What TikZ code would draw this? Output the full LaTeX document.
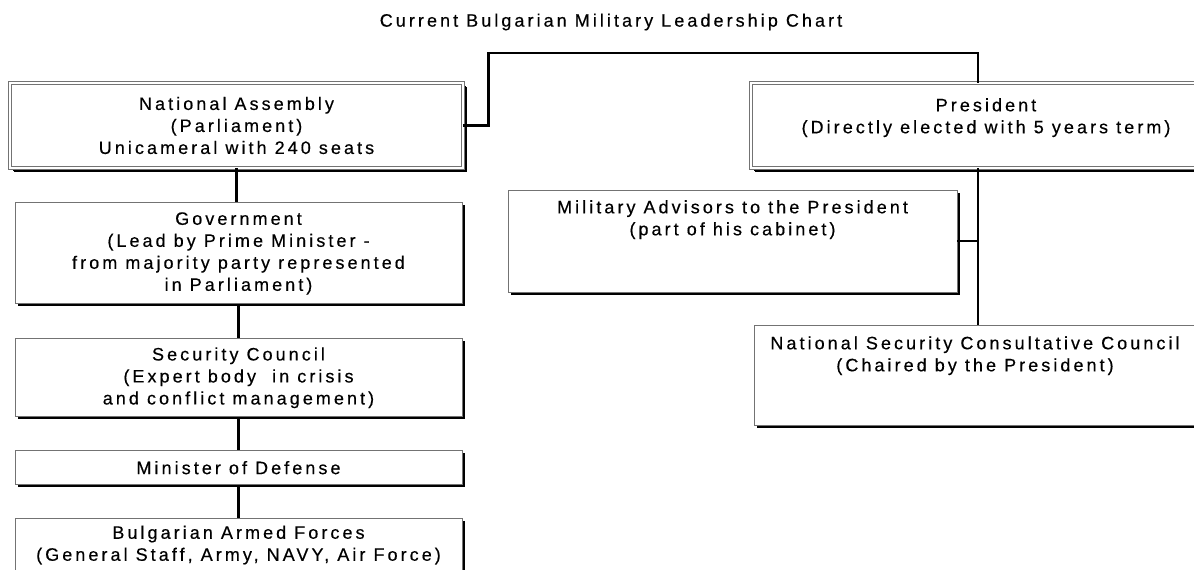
\documentclass[tikz,border=0pt]{standalone}
\usepackage{fontspec}
\newfontfamily\orgfont[LetterSpace=17, FakeBold=0.4]{Liberation Sans}
\usepackage{tikz}
\usetikzlibrary{positioning}
\usetikzlibrary{shadows}
\tikzset{
  orgnode/.style = {align=center, inner sep=0pt, text centered,
    font=\orgfont\fontsize{18}{22}\selectfont},
  org_box/.style = {orgnode, rectangle, draw=black!55, fill=white,
    line width=0.9pt,
    general shadow={fill=black, shadow xshift=2.5pt, shadow yshift=-2.5pt}},% plain box
  org_dbl/.style = {org_box, double=white, double distance=2pt,
    general shadow={fill=black, shadow xshift=4pt, shadow yshift=-4pt}},% top box
  org_link/.style = {draw=black, line width=2.4pt}
}

\begin{document}
\begin{tikzpicture}[x=1pt,y=-1pt]
\useasboundingbox (0,0) rectangle (1194,570);
\clip (0,0) rectangle (1194,570);
\node [orgnode] (title) at (611,22) {Current Bulgarian Military Leadership Chart};

% parliament side
\node [org_dbl, minimum width=453pt, minimum height=85pt] (na) at (236.5,125.5)
  {National Assembly\\(Parliament)\\Unicameral with 240 seats};
\node [org_box, minimum width=447pt, minimum height=101pt, below=34pt of na, xshift=2pt] (gov)
  {Government\\(Lead by Prime Minister -\\from majority party represented\\in Parliament)};
\node [org_box, minimum width=447pt, minimum height=78pt, below=34pt of gov] (sc)
  {Security Council\\(Expert body\ \ in crisis\\and conflict management)};
\node [org_box, minimum width=447pt, minimum height=34pt, below=33pt of sc] (mod)
  {Minister of Defense};
\node [org_box, minimum width=447pt, minimum height=53pt, below=33pt of mod] (baf)
  {Bulgarian Armed Forces\\(General Staff, Army, NAVY, Air Force)};

% president side
\node [org_dbl, minimum width=470pt, minimum height=85pt] (pres) at (986,125.5) {};
\node [orgnode, below=15.5pt of pres.north] (pres_txt)
  {President\\(Directly elected with 5 years term)};
\node [org_box, minimum width=449pt, minimum height=102pt] (ma) at (732.5,241) {};
\node [orgnode, below=10.5pt of ma.north] (ma_txt)
  {Military Advisors to the President\\(part of his cabinet)};
\node [org_box, minimum width=442pt, minimum height=100pt] (nscc) at (975,375) {};
\node [orgnode, below=11.5pt of nscc.north] (nscc_txt)
  {National Security Consultative Council\\(Chaired by the President)};

% connectors
\coordinate (p_stem) at (978,53);
\draw [org_link] (na.east) -- ++(25pt,0) |- (p_stem) -- (p_stem |- pres.north);
\draw [org_link] (pres.south -| p_stem) -- (nscc.north -| p_stem);
\draw [org_link] (ma.east) -- (ma.east -| p_stem);
\draw [org_link] (na.south) -- (na.south |- gov.north);
\draw [org_link] (gov.south) -- (sc.north);
\draw [org_link] (sc.south) -- (mod.north);
\draw [org_link] (mod.south) -- (baf.north);
\end{tikzpicture}
\end{document}
